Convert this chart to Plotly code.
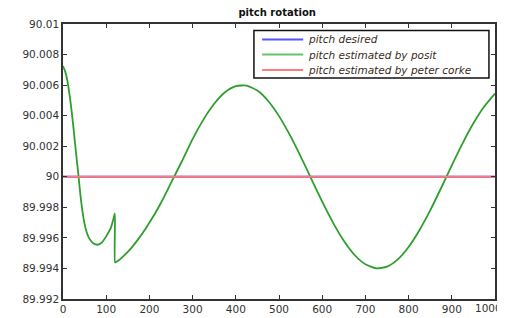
import plotly.graph_objects as go

# sample positions (x) and estimated pitch values (offset from 90, x1e-3) for the posit estimate
x_posit = [0, 5, 10, 15, 20, 25, 30, 35, 40, 45, 50, 55, 60, 70, 80, 90, 100, 110, 115, 120, 120.5,
           123, 130, 140, 160, 175, 190, 200, 213, 225, 236, 250, 275, 300, 325, 350, 375, 400, 425, 450, 475, 500,
           525, 550, 575, 600, 625, 650, 675, 700, 725, 750, 775, 800, 825, 850, 875, 900,
           925, 950, 975, 1000]
posit_offset_e3 = [7.25, 6.9, 6.3, 5.4, 4.3, 3.0, 1.6, 0.3, -1.1, -2.25, -3.1, -3.65, -4.0, -4.35, -4.45, -4.3, -3.9, -3.4, -2.95, -2.4, -5.6,
                   -5.58, -5.45, -5.2, -4.6, -4.05, -3.45, -3.0, -2.4, -1.8, -1.2, -0.4, 1.0, 2.46, 3.74, 4.78, 5.53, 5.93, 5.97, 5.64, 4.96, 3.97,
                   2.74, 1.34, -0.15, -1.63, -3.0, -4.19, -5.12, -5.73, -5.99, -5.88, -5.41, -4.60, -3.50, -2.20, -0.75, 0.75,
                   2.19, 3.50, 4.60, 5.45]
posit_values = [90 + v / 1000 for v in posit_offset_e3]

x_const = [0, 1000]
desired_values = [90, 90]
corke_values = [90, 90]

series_names = ["pitch desired", "pitch estimated by posit", "pitch estimated by peter corke"]
series_colors = ["#3b3bff", "#2e9e2e", "#ff7a7a"]
legend_colors = ["#5555ff", "#66c266", "#ff7a7a"]

y_ticks = [89.992, 89.994, 89.996, 89.998, 90, 90.002, 90.004, 90.006, 90.008, 90.01]
y_tick_labels = ["89.992", "89.994", "89.996", "89.998", "90", "90.002", "90.004", "90.006", "90.008", "90.01"]
x_ticks = [0, 100, 200, 300, 400, 500, 600, 700, 800, 900, 1000]
x_tick_labels = ["0", "100", "200", "300", "400", "500", "600", "700", "800", "900", "1000"]

FONT = "DejaVu Sans, Liberation Sans, Arial"
TICK_FONT = dict(family=FONT, size=10.5, color="#333")

fig = go.Figure()
fig.add_trace(go.Scatter(x=x_const, y=desired_values, mode="lines", name=series_names[0],
                         line=dict(color=series_colors[0], width=2), showlegend=False))
fig.add_trace(go.Scatter(x=x_posit, y=posit_values, mode="lines", name=series_names[1],
                         line=dict(color=series_colors[1], width=1.8, shape="spline", smoothing=0.6),
                         showlegend=False))
fig.add_trace(go.Scatter(x=x_const, y=corke_values, mode="lines", name=series_names[2],
                         line=dict(color=series_colors[2], width=2), showlegend=False))

axis_common = dict(showgrid=False, zeroline=False, showline=True, linecolor="#333", linewidth=1.5,
                   mirror="ticks", ticks="inside", ticklen=4, tickcolor="#333", automargin=False,
                   tickfont=TICK_FONT)

# manual legend box (paper coordinates)
shapes = [dict(type="rect", xref="paper", yref="paper", x0=0.442, x1=0.986, y0=0.804, y1=0.976,
               line=dict(color="#111", width=1.5), fillcolor="white", layer="above")]
annotations = []
row_y = [0.944, 0.889, 0.833]
for name, col, yy in zip(series_names, legend_colors, row_y):
    shapes.append(dict(type="line", xref="paper", yref="paper", x0=0.461, x1=0.556, y0=yy, y1=yy,
                       line=dict(color=col, width=2), layer="above"))
    annotations.append(dict(xref="paper", yref="paper", x=0.563, y=yy, xanchor="left", yanchor="middle",
                            text="<i>" + name + "</i>", showarrow=False,
                            font=dict(family=FONT, size=10.5, color="#3a2a1a")))

# last x tick label placed right-aligned so it stays inside the window
shown_x_labels = x_tick_labels[:-1] + [""]
annotations.append(dict(xref="x", yref="paper", x=x_ticks[-1], y=0, xanchor="right", yanchor="top",
                        xshift=9, yshift=-1, text=x_tick_labels[-1], showarrow=False, font=TICK_FONT))

# the page body adds an 8px offset, so the figure is sized/margined to compensate
fig.update_layout(
    width=505, height=310,
    margin=dict(l=55, r=18, t=16, b=19),
    paper_bgcolor="white", plot_bgcolor="white",
    title=dict(text="<b>pitch rotation</b>", x=0.533, xanchor="center", y=0.985, yanchor="middle",
               font=dict(family=FONT, size=10, color="#111")),
    xaxis=dict(range=[0, 1000], tickvals=x_ticks, ticktext=shown_x_labels, **axis_common),
    yaxis=dict(range=[89.992, 90.01], tickvals=y_ticks, ticktext=y_tick_labels, **axis_common),
    shapes=shapes,
    annotations=annotations,
    showlegend=False,
)

fig.write_html("out.html")
